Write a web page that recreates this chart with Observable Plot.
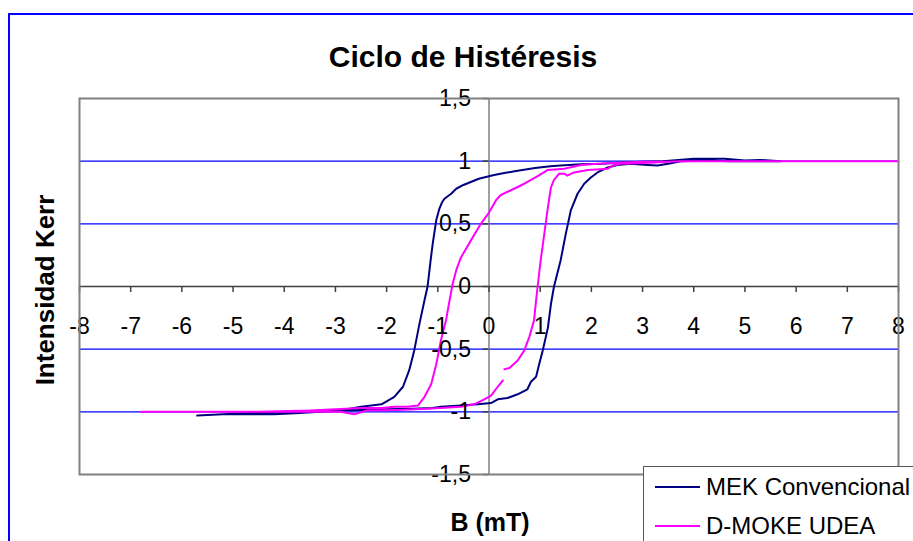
<!DOCTYPE html>
<html>
<head>
<meta charset="utf-8">
<script src="https://cdn.jsdelivr.net/npm/d3@7"></script>
<script src="https://cdn.jsdelivr.net/npm/@observablehq/plot@0.6"></script>
<style>
html,body{margin:0;padding:0;background:#fff;overflow:hidden}
#wrap{position:relative;width:913px;height:541px;overflow:hidden;font-family:"Liberation Sans",Arial,sans-serif;color:#000}
#chart{position:absolute;left:0;top:0}
#border{position:absolute;left:8px;top:13px;width:1000px;height:1000px;border:2px solid #0000ff;box-sizing:border-box;z-index:2;pointer-events:none}
.lbl{position:absolute;font-weight:bold;white-space:nowrap;transform:translate(-50%,-50%);z-index:3}
#legend{position:absolute;left:643px;top:466px;width:400px;height:200px;border:1.5px solid #555;background:#fff;z-index:4;box-sizing:border-box}
.item{position:absolute;left:0;height:30px;font-size:24px;white-space:nowrap}
.item .sw{position:absolute;left:11px;width:45px;height:2px;top:14px}
.item .tx{position:absolute;left:62px;top:0;line-height:30px}
</style>
</head>
<body>
<div id="wrap">
  <div id="chart"></div>
  <div id="border"></div>
  <div class="lbl" id="title" style="left:463px;top:57px;font-size:30px">Ciclo de Histéresis</div>
  <div class="lbl" id="ylab" style="left:45px;top:290px;font-size:26px;transform:translate(-50%,-50%) rotate(-90deg)">Intensidad Kerr</div>
  <div class="lbl" id="xlab" style="left:490px;top:522px;font-size:25px">B (mT)</div>
  <div id="legend"></div>
</div>
<script>
// ---- data ----
const seriesNames = ["MEK Convencional", "D-MOKE UDEA"];
const seriesColors = ["#000080", "#ff00ff"];

// MEK Convencional: descending branch (right to left), then ascending branch (left to right)
const mekB = [5.7, 5.3, 5.0, 4.6, 4.3, 4.0, 3.7, 3.4, 3.0, 2.6, 2.2, 1.8, 1.4, 1.2, 0.9, 0.5, 0.3, 0.1, 0, -0.2, -0.5, -0.64, -0.74, -0.87, -0.92, -0.97, -1.03, -1.10, -1.14, -1.2, -1.26, -1.36, -1.46, -1.56, -1.68, -1.85, -2.1, -2.5, -2.9, -3.3, -3.7, -4.2, -4.6, -5.2, -5.7,
  -5.2, -4.6, -4.0, -3.5, -3.0, -2.5, -2.0, -1.5, -1.1, -0.94, -0.55, -0.22, 0.04, 0.17, 0.36, 0.56, 0.75, 0.82, 0.92, 0.98, 1.05, 1.15, 1.21, 1.27, 1.40, 1.50, 1.60, 1.73, 1.86, 1.99, 2.12, 2.32, 2.51, 2.77, 3.1, 3.29, 3.5, 3.75, 4.2, 4.7, 5.2, 5.7];
const mekK = [1.0, 1.01, 1.005, 1.02, 1.02, 1.02, 1.01, 1.0, 0.995, 0.99, 0.98, 0.975, 0.965, 0.96, 0.945, 0.92, 0.905, 0.89, 0.88, 0.86, 0.81, 0.78, 0.74, 0.70, 0.67, 0.62, 0.53, 0.34, 0.21, 0.0, -0.11, -0.30, -0.51, -0.67, -0.80, -0.88, -0.94, -0.96, -0.99, -1.0, -1.01, -1.02, -1.02, -1.02, -1.03,
  -1.02, -1.01, -1.0, -0.995, -0.99, -0.985, -0.98, -0.975, -0.97, -0.96, -0.95, -0.94, -0.93, -0.90, -0.89, -0.86, -0.82, -0.76, -0.72, -0.62, -0.51, -0.33, -0.14, 0.0, 0.21, 0.42, 0.61, 0.74, 0.82, 0.87, 0.91, 0.95, 0.97, 0.98, 0.97, 0.965, 0.98, 1.0, 1.005, 1.0, 1.0, 1.0];

// D-MOKE UDEA: open loop, starts near (0.3,-0.66), up to +8, back to -6.8, up to (0.27,-0.75)
const udeaB = [0.30, 0.40, 0.56, 0.69, 0.79, 0.88, 0.92, 0.95, 1.01, 1.08, 1.15, 1.21, 1.27, 1.37, 1.47, 1.53, 1.66, 1.93, 2.32, 2.45, 2.58, 3.0, 3.75, 5.0, 6.5, 8.0,
  6.0, 4.0, 3.0, 2.45, 2.12, 1.8, 1.47, 1.15, 0.95, 0.69, 0.49, 0.23, 0.14, 0.0, -0.16, -0.35, -0.55, -0.64, -0.71, -0.77, -0.84, -0.94, -1.03, -1.13, -1.26, -1.39, -1.59, -1.85, -2.1, -2.5, -3.0, -3.5, -4.5, -5.5, -6.8,
  -5.5, -4.0, -3.2, -2.9, -2.63, -2.4, -1.8, -1.2, -0.94, -0.55, -0.29, -0.09, 0.04, 0.17, 0.27];
const udeaK = [-0.66, -0.65, -0.59, -0.51, -0.40, -0.27, -0.11, 0.0, 0.21, 0.42, 0.63, 0.79, 0.85, 0.90, 0.90, 0.885, 0.91, 0.93, 0.94, 0.97, 0.98, 0.985, 1.0, 1.0, 1.0, 1.0,
  1.0, 1.0, 0.995, 0.985, 0.98, 0.97, 0.94, 0.93, 0.88, 0.82, 0.78, 0.73, 0.69, 0.59, 0.50, 0.37, 0.23, 0.13, 0.02, -0.11, -0.27, -0.43, -0.62, -0.78, -0.88, -0.95, -0.96, -0.96, -0.97, -0.97, -0.98, -0.99, -1.0, -1.0, -1.0,
  -1.0, -1.0, -1.0, -1.0, -1.02, -0.99, -0.985, -0.975, -0.97, -0.96, -0.94, -0.90, -0.87, -0.80, -0.75];

const xTicks = [-8, -7, -6, -5, -4, -3, -2, -1, 0, 1, 2, 3, 4, 5, 6, 7, 8];
const yTicks = [-1.5, -1, -0.5, 0, 0.5, 1, 1.5];
const gridY = [-1, -0.5, 0.5, 1];

// ---- build table ----
const rows = [];
mekB.forEach((b, i) => rows.push({series: seriesNames[0], B: b, K: mekK[i]}));
udeaB.forEach((b, i) => rows.push({series: seriesNames[1], B: b, K: udeaK[i]}));

const fmt = d => String(d).replace(".", ",");
const FONT = "Liberation Sans, Arial, sans-serif";

const chart = Plot.plot({
  width: 913,
  height: 541,
  marginLeft: 79,
  marginRight: 15,
  marginTop: 98,
  marginBottom: 67,
  x: {domain: [-8, 8], axis: null},
  y: {domain: [-1.5, 1.5], axis: null},
  color: {domain: seriesNames, range: seriesColors},
  style: {background: "transparent", fontFamily: FONT, color: "#000"},
  marks: [
    Plot.ruleY(gridY, {y: d => d, stroke: "#0000ff", strokeWidth: 1.2}),
    Plot.ruleX([0], {x: d => d, stroke: "#808080", strokeWidth: 1.5}),
    Plot.ruleY([0], {y: d => d, stroke: "#404040", strokeWidth: 1.5}),
    Plot.ruleY(yTicks, {y: d => d, x1: 0, x2: 0, insetLeft: -6, stroke: "#404040", strokeWidth: 1.5}),
    Plot.ruleX(xTicks, {x: d => d, y1: 0, y2: 0, insetBottom: -6, stroke: "#404040", strokeWidth: 1.5}),
    Plot.line(rows, {x: "B", y: "K", z: "series", stroke: "series", strokeWidth: 2, strokeLinejoin: "round", curve: "linear"}),
    Plot.text(yTicks, {x: 0, y: d => d, text: fmt, textAnchor: "end", dx: -18, fontSize: 23, fill: "#000"}),
    Plot.text(xTicks, {x: d => d, y: 0, text: fmt, dy: 40, fontSize: 23, fill: "#000"}),
    Plot.frame({stroke: "#808080", strokeWidth: 2})
  ]
});
document.getElementById("chart").appendChild(chart);

// ---- legend ----
const legend = document.getElementById("legend");
const legendTops = [5, 44];
seriesNames.forEach((name, i) => {
  const it = document.createElement("div");
  it.className = "item";
  it.style.top = legendTops[i] + "px";
  const sw = document.createElement("div");
  sw.className = "sw";
  sw.style.background = seriesColors[i];
  const tx = document.createElement("div");
  tx.className = "tx";
  tx.textContent = name;
  it.appendChild(sw);
  it.appendChild(tx);
  legend.appendChild(it);
});
</script>
</body>
</html>
